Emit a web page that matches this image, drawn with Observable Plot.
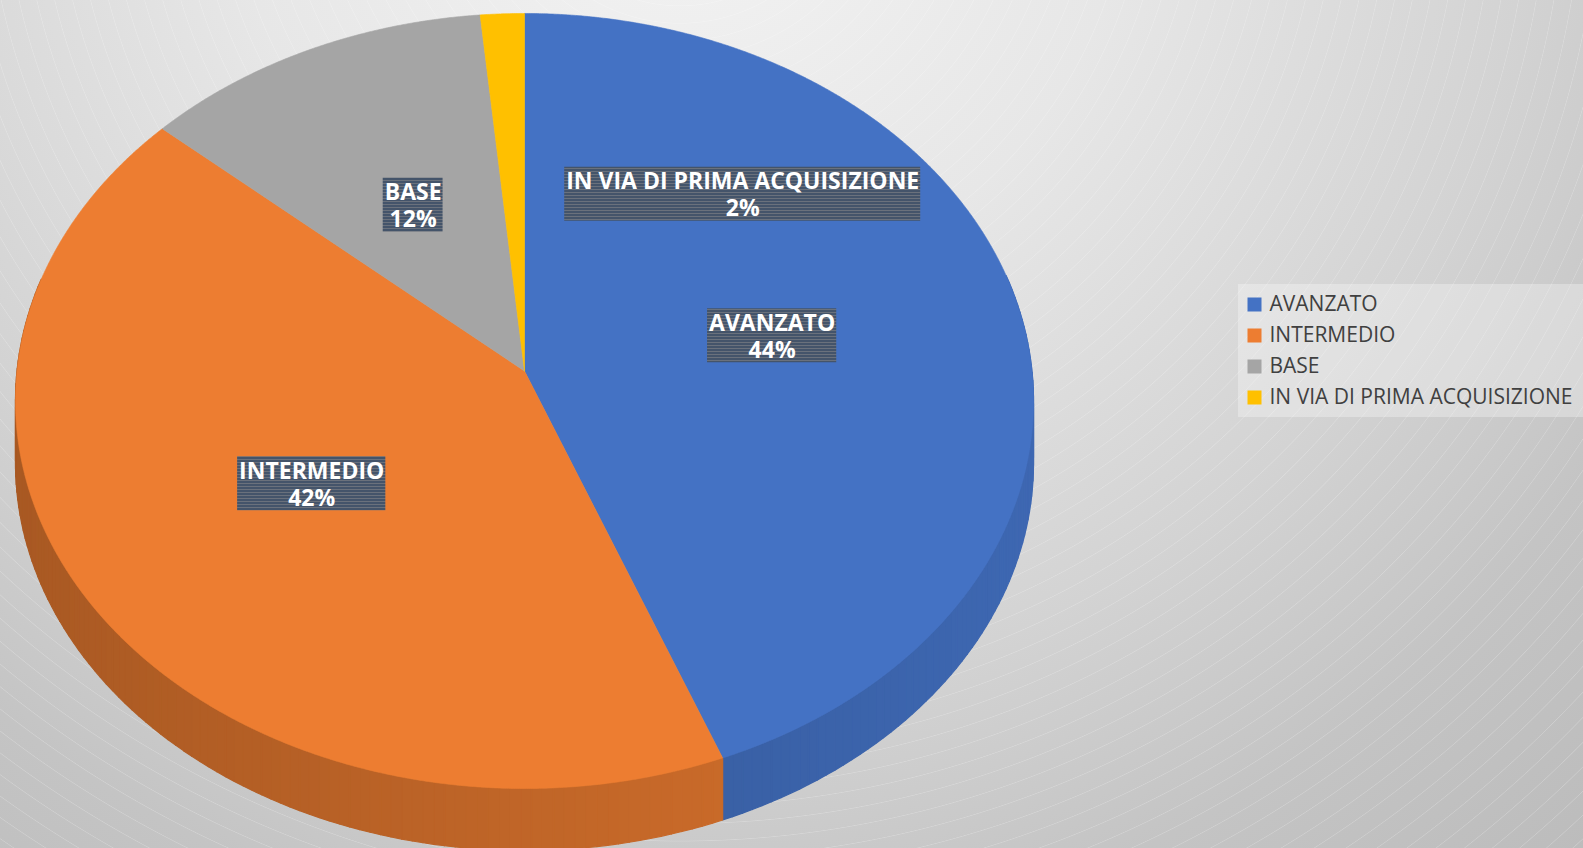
<!DOCTYPE html>
<html><head><meta charset="utf-8">
<script src="https://cdn.jsdelivr.net/npm/d3@7"></script>
<script src="https://cdn.jsdelivr.net/npm/@observablehq/plot@0.6"></script>
<style>
html,body{margin:0;padding:0;}
body{width:1583px;height:848px;overflow:hidden;position:relative;
background:
 repeating-radial-gradient(circle at 680px -150px, rgba(255,255,255,0) 0px, rgba(255,255,255,0) 16px, rgba(255,255,255,0.22) 16.6px, rgba(255,255,255,0) 17.4px),
 radial-gradient(circle at 680px -150px, #f4f4f4 0px, #e7e7e7 450px, #d3d3d3 850px, #c4c4c4 1100px, #bcbcbc 1350px);}
#chart{position:absolute;left:0;top:0;}
#legend{position:absolute;left:1238px;top:284px;width:345px;height:133px;background:rgba(255,255,255,0.3);}
</style></head><body>
<div id="chart"></div><div id="legend"></div>
<script>
// ---- data ----
const categories = ["AVANZATO", "INTERMEDIO", "BASE", "IN VIA DI PRIMA ACQUISIZIONE"];
const values = [44.1, 42.4, 12.0, 1.5];
const colors = ["#4472c4", "#ed7d31", "#a5a5a5", "#ffc000"];

// ---- geometry helpers (3D tilted pie with perspective) ----
const K = 0.0774;                 // perspective strength
const CX = 524, A = 507.5;        // horizontal scale
const CY = 370.5, B = 385.2;      // vertical scale
const DEPTH = 62 / B;             // thickness in data units
function proj(theta, r) {
  const u = r * Math.sin(theta), v = r * Math.cos(theta);
  const d = 1 + K * v;
  return [u / d, v / d];
}
const data = categories.map((name, i) => ({name, value: values[i], color: colors[i]}));
const total = d3.sum(values);
const arcs = d3.pie().sort(null).value(d => d.value).startAngle(0).endAngle(2 * Math.PI)(data);

// top faces
const topPts = [];
arcs.forEach((a, i) => {
  topPts.push({id: "t" + i, x: 0, y: 0, c: a.data.color});
  const n = Math.max(2, Math.ceil((a.endAngle - a.startAngle) / 0.004));
  for (let j = 0; j <= n; j++) {
    const t = a.startAngle + (a.endAngle - a.startAngle) * j / n;
    const [x, y] = proj(t, 1);
    topPts.push({id: "t" + i, x, y, c: a.data.color});
  }
  topPts.push({id: "t" + i, x: 0, y: 0, c: a.data.color});
});

// side band (split into small shaded segments)
const sidePts = [];
arcs.forEach((a, i) => {
  const n = Math.max(1, Math.ceil((a.endAngle - a.startAngle) / 0.02));
  for (let j = 0; j < n; j++) {
    const t0 = a.startAngle + (a.endAngle - a.startAngle) * j / n;
    const t1 = a.startAngle + (a.endAngle - a.startAngle) * (j + 1) / n;
    const tm = (t0 + t1) / 2;
    if (Math.cos(tm) > 0.25) continue;
    const f = 0.81 + 0.10 * Math.sin(tm);
    const base = d3.rgb(a.data.color);
    const c = d3.rgb(base.r * f, base.g * f, base.b * f).formatHex();
    const p0 = proj(t0, 1), p1 = proj(t1, 1);
    const id = "s" + i + "_" + j;
    [[p0[0], p0[1]], [p1[0], p1[1]], [p1[0], p1[1] - DEPTH], [p0[0], p0[1] - DEPTH], [p0[0], p0[1]]]
      .forEach(([x, y]) => sidePts.push({id, x, y, c}));
  }
});

// labels
const FONT_SIZE = 23, LINE = 27;
const ctx = document.createElement("canvas").getContext("2d");
ctx.font = `bold ${FONT_SIZE}px "Open Sans"`;
const fmt = d3.format(".0%");
const labels = arcs.map(a => {
  const share = a.data.value / total;
  const mid = (a.startAngle + a.endAngle) / 2;
  // small slices: label pushed aside (as in the original)
  const [x, y] = share < 0.05 ? proj(mid + 0.80, 0.652) : proj(mid, 0.5);
  const pct = fmt(share);
  const w = Math.max(ctx.measureText(a.data.name).width, ctx.measureText(pct).width) + 3;
  return {x, y, text: a.data.name + "\n" + pct, hw: w / 2 / A, hh: LINE / B};
});

const chart = Plot.plot({
  width: 1583, height: 848, margin: 0,
  style: {background: "transparent", overflow: "visible"},
  x: {domain: [-1, 1], range: [CX - A, CX + A], axis: null},
  y: {domain: [-1, 1], range: [CY + B, CY - B], axis: null},
  color: {type: "identity"},
  marks: [
    Plot.line(sidePts, {x: "x", y: "y", z: "id", fill: "c", stroke: "c", strokeWidth: 1.2, curve: "linear"}),
    Plot.line(topPts, {x: "x", y: "y", z: "id", fill: "c", stroke: "c", strokeWidth: 0.6, curve: "linear"}),
    Plot.rect(labels, {x1: d => d.x - d.hw, x2: d => d.x + d.hw, y1: d => d.y - d.hh, y2: d => d.y + d.hh, fill: "url(#stripes)"}),
    Plot.text(labels, {x: "x", y: "y", text: "text", fill: "white", fontWeight: "bold", fontSize: FONT_SIZE, fontFamily: "Open Sans", lineHeight: LINE / FONT_SIZE})
  ]
});
const defs = d3.select(chart).insert("defs", ":first-child");
const pat = defs.append("pattern").attr("id", "stripes").attr("patternUnits", "userSpaceOnUse").attr("width", 8).attr("height", 3);
pat.append("rect").attr("width", 8).attr("height", 3).attr("fill", "#44546a");
pat.append("rect").attr("width", 8).attr("height", 1).attr("fill", "#6a717c");
document.getElementById("chart").append(chart);

const legend = Plot.plot({
  width: 345, height: 133, margin: 0,
  style: {background: "transparent"},
  y: {type: "point", domain: categories, range: [19, 113], padding: 0, axis: null},
  color: {domain: categories, range: colors},
  marks: [
    Plot.dot(categories, {y: d => d, fill: d => d, symbol: "square", r: 7.9, frameAnchor: "left", dx: 16}),
    Plot.text(categories, {y: d => d, text: d => d, frameAnchor: "left", textAnchor: "start", dx: 31, fill: "#404040", fontSize: 21, fontFamily: "Open Sans"})
  ]
});
document.getElementById("legend").append(legend);
</script>
</body></html>
